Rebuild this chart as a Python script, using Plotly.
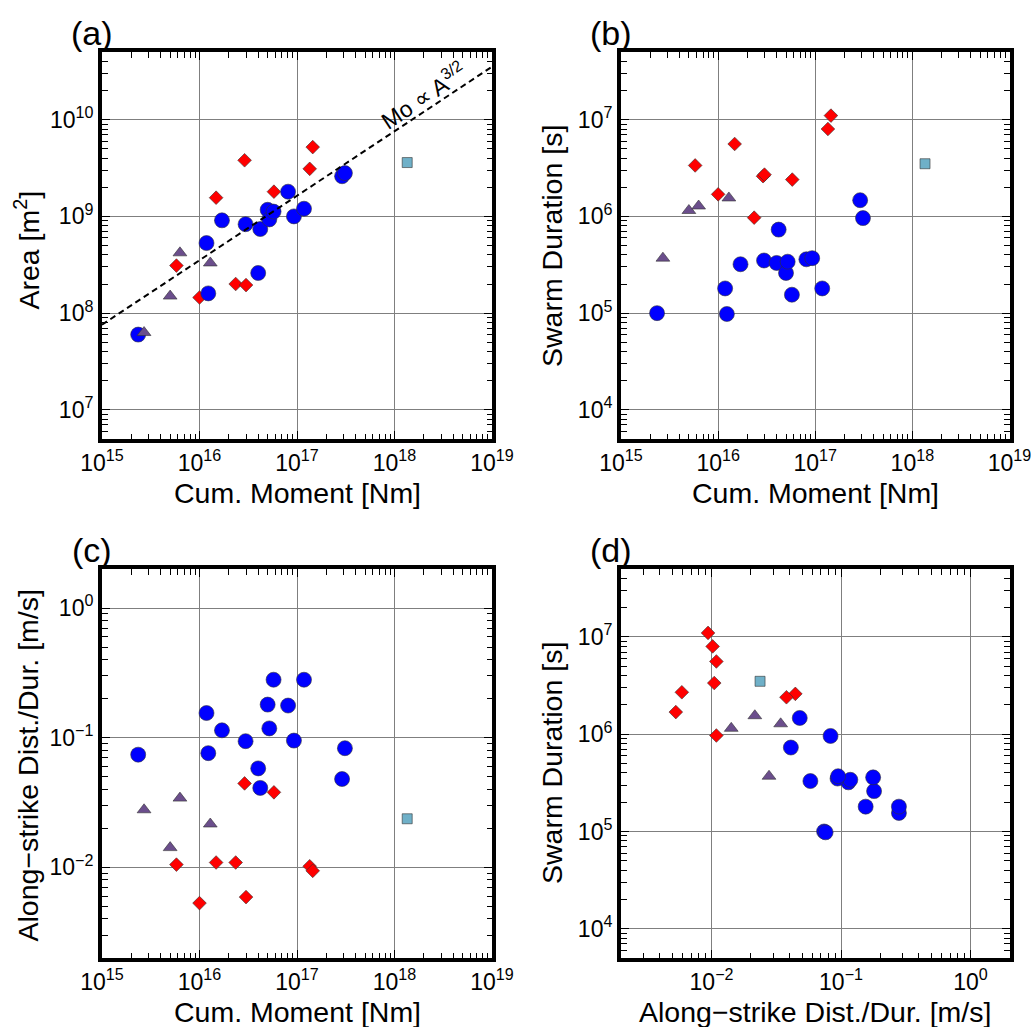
import numpy as np
import plotly.graph_objects as go

# ---- swarm catalogue: cumulative moment [Nm], area [m^2], duration [s], migration speed [m/s]
blue_moment = [2.35e15, 1.18e16, 1.23e16, 1.7e16, 2.97e16, 4.2e16, 4.0e16, 5.0e16,
               5.2e16, 5.75e16, 8.1e16, 9.3e16, 1.18e17, 2.9e17, 3.1e17]
blue_area = [6.0e7, 5.3e8, 1.6e8, 9.1e8, 8.3e8, 7.4e8, 2.6e8, 1.17e9,
             9.3e8, 1.12e9, 1.8e9, 1.0e9, 1.2e9, 2.6e9, 2.8e9]
blue_duration = [1.0e5, 1.8e5, 9.8e4, 3.2e5, 3.5e5, 7.3e5, 3.3e5, 2.6e5,
                 3.4e5, 1.55e5, 3.6e5, 3.7e5, 1.8e5, 1.47e6, 9.6e5]
blue_speed = [0.074, 0.155, 0.076, 0.114, 0.094, 0.041, 0.058, 0.18,
              0.118, 0.28, 0.177, 0.095, 0.28, 0.048, 0.083]

red_moment = [5.8e15, 1.0e16, 1.48e16, 2.35e16, 2.9e16, 3.0e16, 5.8e16, 1.35e17, 1.45e17]
red_area = [3.1e8, 1.45e8, 1.56e9, 2.0e8, 3.8e9, 1.95e8, 1.8e9, 3.1e9, 5.2e9]
red_duration = [3.36e6, 1.69e6, 5.6e6, 9.7e5, 2.6e6, 2.7e6, 2.4e6, 8.0e6, 1.1e7]
red_speed = [0.0105, 0.0053, 0.0109, 0.0109, 0.0444, 0.0059, 0.0379, 0.0102, 0.0094]

purple_moment = [2.7e15, 5.0e15, 6.3e15, 1.29e16]
purple_area = [6.3e7, 1.5e8, 4.2e8, 3.3e8]
purple_duration = [3.7e5, 1.15e6, 1.28e6, 1.55e6]
purple_speed = [0.0278, 0.0142, 0.0342, 0.0216]

cyan_moment = [1.35e18]
cyan_area = [3.6e9]
cyan_duration = [3.5e6]
cyan_speed = [0.0237]

# Mo ∝ A^(3/2)  ->  A = C * Mo^(2/3)
SCALING_EXPONENT = 2.0 / 3.0
SCALING_LOG_PREFACTOR = -2.12

FONT = "Liberation Sans, Arial, Helvetica, sans-serif"
MINUS = "\u2212"

# ---- panel geometry (paper fractions)
W, H = 1031, 1027
LEFT_X = [102 / W, 492 / W]
RIGHT_X = [621 / W, 1009.5 / W]
TOP_Y = [1 - 439 / H, 1 - 52 / H]
BOT_Y = [1 - 958 / H, 1 - 569 / H]


def tick_text(e):
    s = str(e).replace("-", MINUS)
    return f"10<sup>{s}</sup>"


def log_axis(lo_exp, hi_exp, lo, hi, domain, anchor):
    major = list(range(lo_exp, hi_exp + 1))
    return dict(
        type="log",
        range=[np.log10(lo), np.log10(hi)],
        domain=domain,
        anchor=anchor,
        automargin=False,
        showline=True, linewidth=4, linecolor="black", mirror="allticks",
        ticks="inside", ticklen=8, tickwidth=1, tickcolor="black",
        tickmode="array",
        tickvals=[10.0 ** e for e in major],
        ticktext=[tick_text(e) for e in major],
        tickfont=dict(family=FONT, size=23, color="black"),
        ticklabeloverflow="allow",
        showgrid=True, gridcolor="#7f7f7f", gridwidth=1,
        zeroline=False,
        minor=dict(ticks="inside", ticklen=5.5, tickwidth=1, tickcolor="black",
                   dtick="D1", showgrid=False),
    )


fig = go.Figure()

panels = [
    ("x", "y", [red_moment, blue_moment, purple_moment, cyan_moment],
     [red_area, blue_area, purple_area, cyan_area]),
    ("x2", "y2", [red_moment, blue_moment, purple_moment, cyan_moment],
     [red_duration, blue_duration, purple_duration, cyan_duration]),
    ("x3", "y3", [red_moment, blue_moment, purple_moment, cyan_moment],
     [red_speed, blue_speed, purple_speed, cyan_speed]),
    ("x4", "y4", [red_speed, blue_speed, purple_speed, cyan_speed],
     [red_duration, blue_duration, purple_duration, cyan_duration]),
]

styles = [
    dict(symbol="diamond", size=10.5, color="#ff0000"),
    dict(symbol="circle", size=15, color="#0000ff"),
    dict(symbol="triangle-up", size=12, color="#6b4e8c"),
    dict(symbol="square", size=10, color="#6fb0c8"),
]

for xa, ya, xs, ys in panels:
    for st, xv, yv in zip(styles, xs, ys):
        fig.add_trace(go.Scatter(
            x=xv, y=yv, xaxis=xa, yaxis=ya, mode="markers",
            marker=dict(symbol=st["symbol"], size=st["size"], color=st["color"],
                        line=dict(color="#333333", width=0.6)),
            showlegend=False, hoverinfo="skip"))

# scaling line in panel (a)
mo_line = np.logspace(15, 19, 50)
area_line = 10 ** (SCALING_LOG_PREFACTOR + SCALING_EXPONENT * np.log10(mo_line))
fig.add_trace(go.Scatter(
    x=mo_line, y=area_line, xaxis="x", yaxis="y", mode="lines",
    line=dict(color="black", width=2, dash="6px,4px"),
    showlegend=False, hoverinfo="skip"))

fig.update_layout(
    template="none",
    width=W, height=H,
    margin=dict(l=0, r=0, t=0, b=0),
    paper_bgcolor="white", plot_bgcolor="white",
    font=dict(family=FONT, color="black"),
    xaxis=log_axis(15, 19, 1e15, 1e19, LEFT_X, "y"),
    yaxis=log_axis(7, 10, 5e6, 5e10, TOP_Y, "x"),
    xaxis2=log_axis(15, 19, 1e15, 1e19, RIGHT_X, "y2"),
    yaxis2=log_axis(4, 7, 5e3, 5e7, TOP_Y, "x2"),
    xaxis3=log_axis(15, 19, 1e15, 1e19, LEFT_X, "y3"),
    yaxis3=log_axis(-2, 0, 2e-3, 2.0, BOT_Y, "x3"),
    xaxis4=log_axis(-2, 0, 2e-3, 2.0, RIGHT_X, "y4"),
    yaxis4=log_axis(4, 7, 5e3, 5e7, BOT_Y, "x4"),
)

ann = []
# panel letters
for label, px, py in [("(a)", 92, 33), ("(b)", 611, 33), ("(c)", 92, 550), ("(d)", 611, 550)]:
    ann.append(dict(text=label, x=px / W, y=1 - py / H, xref="paper", yref="paper",
                    showarrow=False, xanchor="center", yanchor="middle",
                    font=dict(family=FONT, size=34, color="black")))

# x-axis titles
for text, px, py in [("Cum. Moment [Nm]", 297, 493), ("Cum. Moment [Nm]", 815, 493),
                     ("Cum. Moment [Nm]", 297, 1012),
                     (f"Along{MINUS}strike Dist./Dur. [m/s]", 815, 1012)]:
    ann.append(dict(text=text, x=px / W, y=1 - py / H, xref="paper", yref="paper",
                    showarrow=False, xanchor="center", yanchor="middle",
                    font=dict(family=FONT, size=28.5, color="black")))

# y-axis titles
for text, px, py in [("Area [m<sup>2</sup>]", 27.5, 250), ("Swarm Duration [s]", 552, 246),
                     (f"Along{MINUS}strike Dist./Dur. [m/s]", 27.5, 766),
                     ("Swarm Duration [s]", 552, 763)]:
    ann.append(dict(text=text, x=px / W, y=1 - py / H, xref="paper", yref="paper",
                    showarrow=False, xanchor="center", yanchor="middle", textangle=-90,
                    font=dict(family=FONT, size=28.5, color="black")))

# scaling-law label
ann.append(dict(text="Mo \u221d A<sup>3/2</sup>", x=18.3, y=10.25, xref="x", yref="y",
                showarrow=False, xanchor="center", yanchor="middle", textangle=-33.7,
                font=dict(family=FONT, size=23, color="black")))

fig.update_layout(annotations=ann)

fig.write_html("out.html")
